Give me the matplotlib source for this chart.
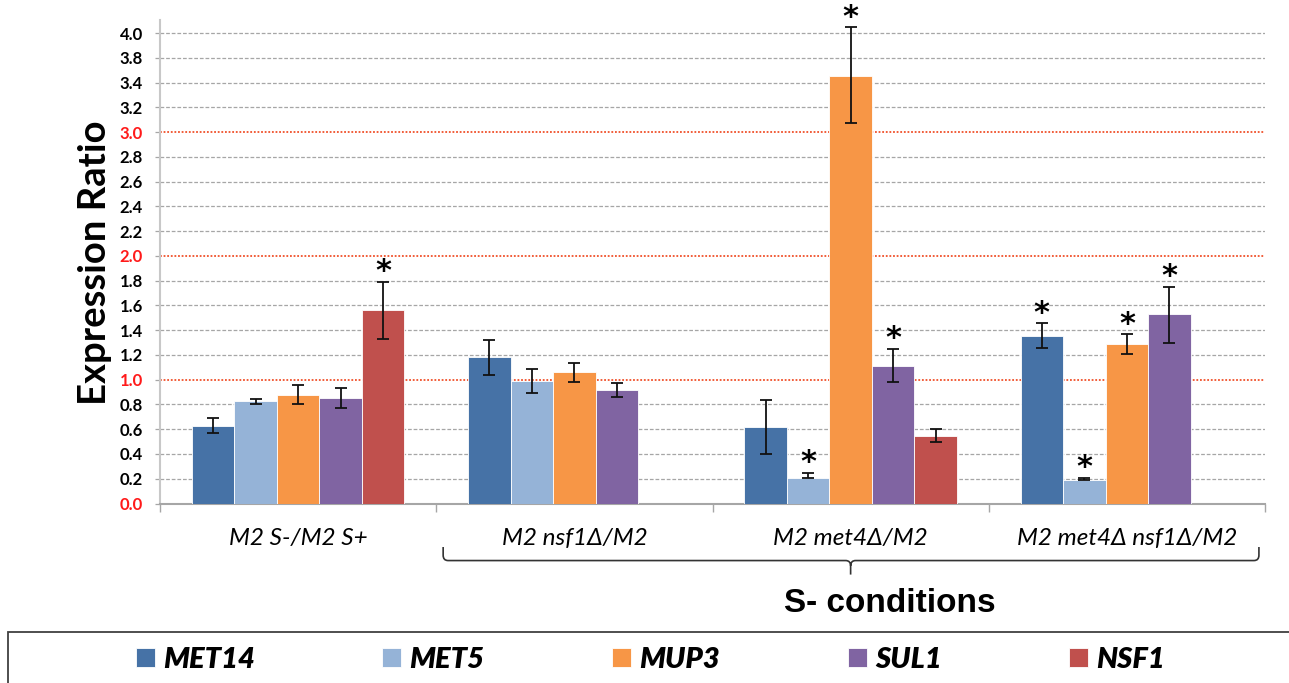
import numpy as np
import matplotlib
matplotlib.use("Agg")
import matplotlib.pyplot as plt
from matplotlib.path import Path
from matplotlib.patches import PathPatch, Rectangle
from matplotlib.transforms import blended_transform_factory

# datos
condiciones = ["M2 S-/M2 S+", "M2 nsf1\u0394/M2", "M2 met4\u0394/M2", "M2 met4\u0394 nsf1\u0394/M2"]
genes = ["MET14", "MET5", "MUP3", "SUL1", "NSF1"]
colores = ["#4672A6", "#95B3D7", "#F79646", "#8064A2", "#C0504D"]

met14 = [0.63, 1.18, 0.62, 1.355]
met5 = [0.825, 0.99, 0.21, 0.19]
mup3 = [0.88, 1.06, 3.455, 1.29]
sul1 = [0.85, 0.92, 1.11, 1.53]
nsf1 = [1.56, np.nan, 0.545, np.nan]

# error hacia arriba / hacia abajo
met14_up = [0.06, 0.14, 0.22, 0.10]
met14_dn = [0.06, 0.145, 0.22, 0.095]
met5_up = [0.022, 0.097, 0.04, 0.02]
met5_dn = [0.025, 0.10, 0.0, 0.0]
mup3_up = [0.08, 0.075, 0.395, 0.08]
mup3_dn = [0.08, 0.075, 0.385, 0.08]
sul1_up = [0.08, 0.05, 0.14, 0.22]
sul1_dn = [0.08, 0.057, 0.13, 0.23]
nsf1_up = [0.232, np.nan, 0.055, np.nan]
nsf1_dn = [0.233, np.nan, 0.05, np.nan]

# asteriscos de significancia
met14_sig = [0, 0, 0, 1]
met5_sig = [0, 0, 1, 1]
mup3_sig = [0, 0, 1, 1]
sul1_sig = [0, 0, 1, 1]
nsf1_sig = [1, 0, 0, 0]

# etiquetas del eje y tal como aparecen
y_ticks = [0.0, 0.2, 0.4, 0.6, 0.8, 1.0, 1.2, 1.4, 1.6, 1.8, 2.0, 2.2, 2.4,
           2.6, 2.8, 3.0, 3.2, 3.4, 3.6, 3.8]
y_labels = ["0.0", "0.2", "0.4", "0.6", "0.8", "1.0", "1.2", "1.4", "1.6", "1.8",
            "2.0", "2.2", "2.4", "2.6", "2.8", "3.0", "3.2", "3.4", "3.8", "4.0"]
rojos = [0.0, 1.0, 2.0, 3.0]

valores = [met14, met5, mup3, sul1, nsf1]
err_up = [met14_up, met5_up, mup3_up, sul1_up, nsf1_up]
err_dn = [met14_dn, met5_dn, mup3_dn, sul1_dn, nsf1_dn]
signif = [met14_sig, met5_sig, mup3_sig, sul1_sig, nsf1_sig]

W, H = 1289, 683
fig = plt.figure(figsize=(W / 100, H / 100), dpi=100)
ax = fig.add_axes([160 / W, 179.5 / H, 1105 / W, 483.5 / H])

x = np.arange(len(condiciones))
ancho = 0.154
barras = []
for i in range(len(genes)):
    pos = x + (i - 2) * ancho
    b = ax.bar(pos, valores[i], ancho, color=colores[i], edgecolor="#FFFFFF",
               linewidth=0.6, zorder=3, label=genes[i])
    barras.append(b)
    ax.errorbar(pos, valores[i], yerr=[err_dn[i], err_up[i]], fmt="none",
                ecolor="#111111", elinewidth=1.3, capsize=4, capthick=1.3, zorder=4)
    for j in range(len(condiciones)):
        if signif[i][j]:
            tope = valores[i][j] + err_up[i][j]
            ax.annotate("*", xy=(pos[j], tope), xytext=(0, 1), textcoords="offset points",
                        ha="center", va="baseline", fontsize=22, fontweight="bold",
                        family="DejaVu Sans", zorder=5)

ax.set_xlim(-0.5, 3.5)
ax.set_ylim(0, 3.906)

# eje y
ax.set_yticks(y_ticks)
ax.set_yticklabels(y_labels, family="Lato", fontweight="bold", fontsize=12)
ax.tick_params(axis="y", length=3.6, width=0.9, color="#A6A6A6", pad=8.6)
for lbl, v in zip(ax.get_yticklabels(), y_ticks):
    if v in rojos:
        lbl.set_color("#FF1A1A")

ax.set_axisbelow(True)
ax.yaxis.grid(True, color="#A6A6A6", linestyle=(0, (3, 1.5)), linewidth=0.9)
for gl, v in zip(ax.get_ygridlines(), y_ticks):
    if v in rojos and v > 0:
        gl.set_color("#F0502A")
        gl.set_linestyle((0, (1, 1)))
        gl.set_linewidth(1.3)

# eje x
ax.set_xticks(x)
ax.set_xticklabels(condiciones, family="Lato", style="italic", fontsize=17.5)
ax.tick_params(axis="x", which="major", length=0, pad=17.5)
ax.set_xticks(np.arange(-0.5, 4, 1), minor=True)
ax.tick_params(axis="x", which="minor", length=5.8, width=1, color="#A6A6A6")

for lado in ["top", "right"]:
    ax.spines[lado].set_visible(False)
ax.spines["left"].set_color("#C8C8C8")
ax.spines["left"].set_linewidth(1.5)
ax.spines["bottom"].set_color("#A6A6A6")
ax.spines["bottom"].set_linewidth(1.5)

ax.set_ylabel("Expression Ratio", family="Lato", fontweight="bold", fontsize=27.5)
ax.yaxis.label.set_va("center")
ax.yaxis.set_label_coords((95.5 - 160) / 1105, (503.5 - 262.5) / 483.5)

# llave bajo las condiciones S-
tr = blended_transform_factory(ax.transData, ax.transAxes)
x0, x1, xc = 0.525, 3.478, 2.0
ytop, ymid, ybot = -0.090, -0.118, -0.147
rx, ry = 0.018, 0.011
verts = [(x0, ytop), (x0, ymid + ry), (x0, ymid), (x0 + rx, ymid),
         (xc - rx, ymid), (xc, ymid), (xc, ymid - ry), (xc, ybot),
         (xc, ymid - ry), (xc, ymid), (xc + rx, ymid),
         (x1 - rx, ymid), (x1, ymid), (x1, ymid + ry), (x1, ytop)]
codes = [Path.MOVETO, Path.LINETO, Path.CURVE3, Path.CURVE3,
         Path.LINETO, Path.CURVE3, Path.CURVE3, Path.LINETO,
         Path.MOVETO, Path.CURVE3, Path.CURVE3,
         Path.LINETO, Path.CURVE3, Path.CURVE3, Path.LINETO]
llave = PathPatch(Path(verts, codes), fill=False, edgecolor="#333333", linewidth=1.2,
                  transform=tr, clip_on=False)
ax.add_patch(llave)

fig.text(890 / W, 1 - 611.7 / H, "S- conditions", ha="center", va="baseline",
         family="Liberation Sans", fontweight="bold", fontsize=24)

# leyenda
fig.legend(handles=barras, labels=genes, ncol=5, loc="center left",
           bbox_to_anchor=(135.7 / W, 1 - 659.7 / H), frameon=False,
           prop={"family": "Lato", "weight": "heavy", "style": "italic", "size": 21},
           columnspacing=4.38, handletextpad=0.28, handlelength=0.65,
           handleheight=0.62, borderpad=0, borderaxespad=0)
caja = Rectangle((8.3 / W, -0.1), 1.1, 0.1 + 1 - 631.7 / H, transform=fig.transFigure,
                 fill=False, edgecolor="#404040", linewidth=1.3, clip_on=False)
fig.add_artist(caja)

fig.savefig("out.png", dpi=100)
